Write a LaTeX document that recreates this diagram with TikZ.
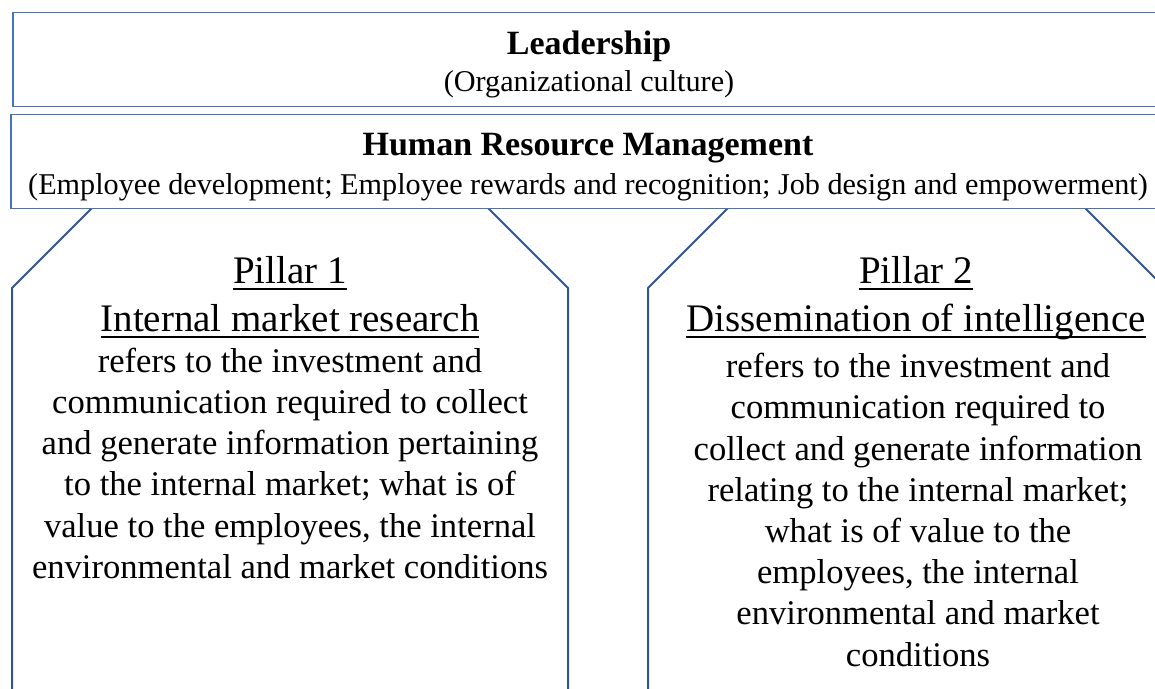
\documentclass[tikz,border=0pt]{standalone}
\usepackage{fontspec}
\setmainfont{Liberation Serif}
\usepackage{tikz}
\usetikzlibrary{positioning}
\definecolor{bandblue}{HTML}{4472C4}
\definecolor{pillarblue}{HTML}{2F5597}

% heavier underline for the pillar headings
\newcommand{\pillarul}[1]{\setbox0\hbox{#1}\rlap{\rule[-3.3pt]{\wd0}{1.1pt}}\box0}

\begin{document}
\begin{tikzpicture}[x=0.5pt, y=-0.5pt, every node/.style={align=center, inner sep=0pt},
  band/.style={draw=bandblue, fill=white, line width=0.75pt, rectangle, minimum width=579pt, minimum height=47pt},
  bandtext/.style={anchor=north, font=\fontsize{15.1}{18.5}\selectfont},
  pillar/.style={draw=pillarblue, line width=1pt},
  ptitle/.style={anchor=north, font=\fontsize{19.5}{24}\selectfont},
  pbody/.style={anchor=north, font=\fontsize{17.3}{20.6}\selectfont}]

\useasboundingbox (0,0) rectangle (1155,689);
\clip (0,0) rectangle (1155,689);

% Pillar outlines (open at the bottom)
\draw[pillar] (12,700) -- (12,288) -- (92,208) -- (488,208) -- (568,288) -- (568,700);
\draw[pillar] (648,700) -- (648,288) -- (728,208) -- (1085,208) -- (1165,288) -- (1165,700);

% Bands across the top
\node (leadership) [band, anchor=north west] at (12,12) {};
\node (hrm) [band, anchor=north west] at (10,114) {};
\node (leadtext) [bandtext] at (589,31) {{\fontsize{17}{18.5}\selectfont\bfseries Leadership}\\(Organizational culture)};
\node (hrmtext) [bandtext, font=\fontsize{15.1}{19.5}\selectfont] at (588,133) {{\fontsize{17}{19.5}\selectfont\bfseries Human Resource Management}\\(Employee development; Employee rewards and recognition; Job design and empowerment)};

% Pillar 1
\node (p1title) [ptitle] at (290,256) {\pillarul{Pillar 1}\\\pillarul{Internal market research}};
\node (p1body) [pbody] at (290,347.5) {refers to the investment and\\communication required to collect\\and generate information pertaining\\to the internal market; what is of\\value to the employees, the internal\\environmental and market conditions};

% Pillar 2
\node (p2title) [ptitle] at (916,256) {\pillarul{Pillar 2}\\\pillarul{Dissemination of intelligence}};
\node (p2body) [pbody] at (918,353) {refers to the investment and\\communication required to\\collect and generate information\\relating to the internal market;\\what is of value to the\\employees, the internal\\environmental and market\\conditions};

\end{tikzpicture}
\end{document}
